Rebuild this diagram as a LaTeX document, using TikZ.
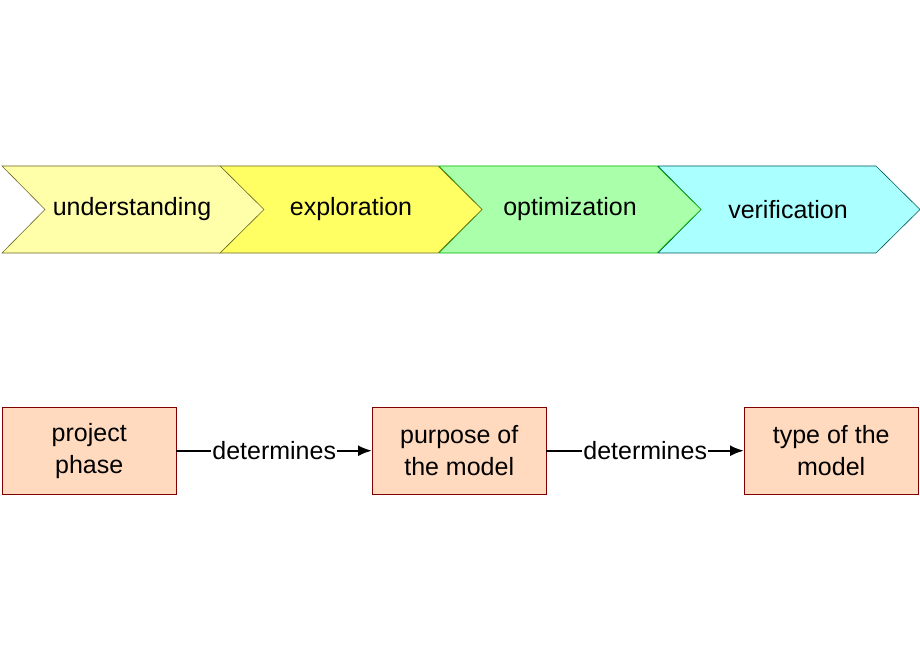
\documentclass[tikz,border=0pt]{standalone}
\usepackage{fontspec}
\setmainfont{Liberation Sans}
\usetikzlibrary{arrows.meta}
\begin{document}
\begin{tikzpicture}[x=1pt,y=-1pt,
  chev/.style={draw=#1!60!black!80, line width=0.6pt},
  lbl/.style={font=\fontsize{25}{28}\selectfont, inner sep=0pt},
  box/.style={draw=red!50!black, fill=orange!25!white, fill=peach, minimum width=174pt, minimum height=87pt, inner sep=0pt, align=center, font=\fontsize{25}{32}\selectfont, anchor=north west},
  conn/.style={line width=2.2pt, -{Latex[length=14pt,width=11pt]}}]
\definecolor{peach}{RGB}{255,218,190}
\definecolor{c1}{RGB}{255,255,170}
\definecolor{c2}{RGB}{255,255,100}
\definecolor{c3}{RGB}{170,255,170}
\definecolor{c4}{RGB}{170,255,255}
\useasboundingbox (0,0) rectangle (920,660);
\foreach \x/\c/\d in {658/c4/teal, 439/c3/green, 220/c2/olive, 2/c1/olive}{
  \filldraw[fill=\c, draw=\d!70!black, line width=0.6pt] (\x,166) -- (\x+218,166) -- (\x+262,209.5) -- (\x+218,253) -- (\x,253) -- (\x+43,209.5) -- cycle;
}
\node[lbl] (u) at (132,209.5) {understanding};
\node[lbl] (e) at (351,209.5) {exploration};
\node[lbl] (o) at (570,209.5) {optimization};
\node[lbl] (v) at (788,209.5) {verification};
\node[box] (a) at (2,407) {project\\phase};
\node[box] (b) at (372,407) {purpose of\\the model};
\node[box] (c) at (744,407) {type of the\\model};
\draw[conn] (a) -- node[fill=white, inner sep=1pt, font=\fontsize{25}{28}\selectfont] {determines} (b);
\draw[conn] (b) -- node[fill=white, inner sep=1pt, font=\fontsize{25}{28}\selectfont] {determines} (c);
\end{tikzpicture}
\end{document}
